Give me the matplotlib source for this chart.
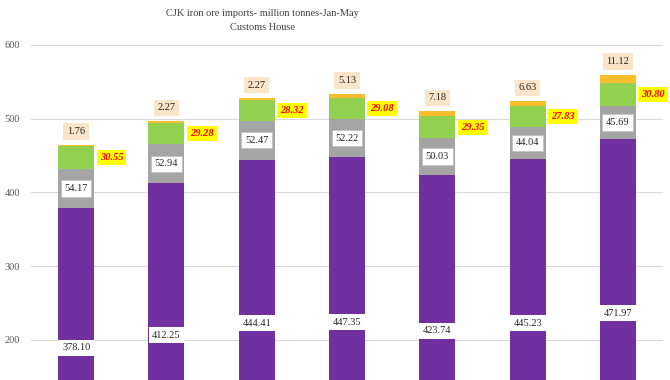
import matplotlib
matplotlib.use("Agg")
import matplotlib.pyplot as plt
import numpy as np

# Data (million tonnes) - stacked segments, bottom to top
purple_vals = [378.10, 412.25, 444.41, 447.35, 423.74, 445.23, 471.97]
gray_vals = [54.17, 52.94, 52.47, 52.22, 50.03, 44.04, 45.69]
green_vals = [30.55, 29.28, 28.32, 29.08, 29.35, 27.83, 30.80]
orange_vals = [1.76, 2.27, 2.27, 5.13, 7.18, 6.63, 11.12]
y_ticks = [200, 300, 400, 500, 600]
title_lines = ["CJK iron ore imports- million tonnes-Jan-May", "Customs House"]

plt.rcParams['font.family'] = ['Liberation Serif', 'DejaVu Serif']

W, H = 670, 380
fig = plt.figure(figsize=(W / 100, H / 100), dpi=100)
ax = fig.add_axes([31 / W, 0, (663 - 31) / W, 1])

x = np.arange(len(purple_vals))
purple = np.array(purple_vals)
gray = np.array(gray_vals)
green = np.array(green_vals)
orange = np.array(orange_vals)

c_purple = '#7030A0'
c_gray = '#A5A5A5'
c_green = '#92D050'
c_orange = '#FCBD2C'
bw = 0.4

ax.bar(x, purple, bw, color=c_purple, zorder=3)
ax.bar(x, gray, bw, bottom=purple, color=c_gray, zorder=3)
ax.bar(x, green, bw, bottom=purple + gray, color=c_green, zorder=3)
ax.bar(x, orange, bw, bottom=purple + gray + green, color=c_orange, zorder=3)

fs = 7.5
for i in range(len(x)):
    # purple label
    ax.text(x[i], purple[i] / 2, f"{purple[i]:.2f}", ha='center', va='center',
            fontsize=fs, color='#262626', zorder=5,
            bbox=dict(boxstyle='square,pad=0.35', fc='white', ec='none'))
    # gray label
    ax.text(x[i], purple[i] + gray[i] / 2, f"{gray[i]:.2f}", ha='center', va='center',
            fontsize=fs, color='#262626', zorder=5,
            bbox=dict(boxstyle='square,pad=0.35', fc='white', ec='#BFBFBF', lw=0.5))
    # green label (right of bar)
    gy = purple[i] + gray[i] + green[i] / 2
    ax.annotate(f"{green[i]:.2f}", xy=(x[i], gy), xytext=(25.5, 0),
                textcoords='offset points', ha='center', va='center',
                fontsize=fs, color='#FF0000', fontweight='bold', fontstyle='italic',
                zorder=5,
                bbox=dict(boxstyle='square,pad=0.3', fc='#FFFF00', ec='none'))
    # orange label (above bar)
    top = purple[i] + gray[i] + green[i] + orange[i]
    ax.annotate(f"{orange[i]:.2f}", xy=(x[i], top), xytext=(0, 9.5),
                textcoords='offset points', ha='center', va='center',
                fontsize=fs, color='#262626', zorder=5,
                bbox=dict(boxstyle='square,pad=0.35', fc='#FBE5C9', ec='none'))

ax.set_xlim(-0.5, len(x) - 0.5)
ax.set_ylim(145.3, 661)
ax.set_yticks(y_ticks)
ax.set_yticklabels([str(v) for v in y_ticks], fontsize=7.5, color='#595959')
ax.tick_params(axis='y', length=0, pad=8)
ax.set_xticks([])
ax.grid(axis='y', color='#D9D9D9', lw=0.8, zorder=0)
for s in ax.spines.values():
    s.set_visible(False)

fig.text(262 / W, 1 - 14 / H, title_lines[0], ha='center', va='center',
         fontsize=7.5, color='#404040')
fig.text(262 / W, 1 - 27 / H, title_lines[1], ha='center', va='center',
         fontsize=7.5, color='#404040')

fig.savefig('out.png', dpi=100)
